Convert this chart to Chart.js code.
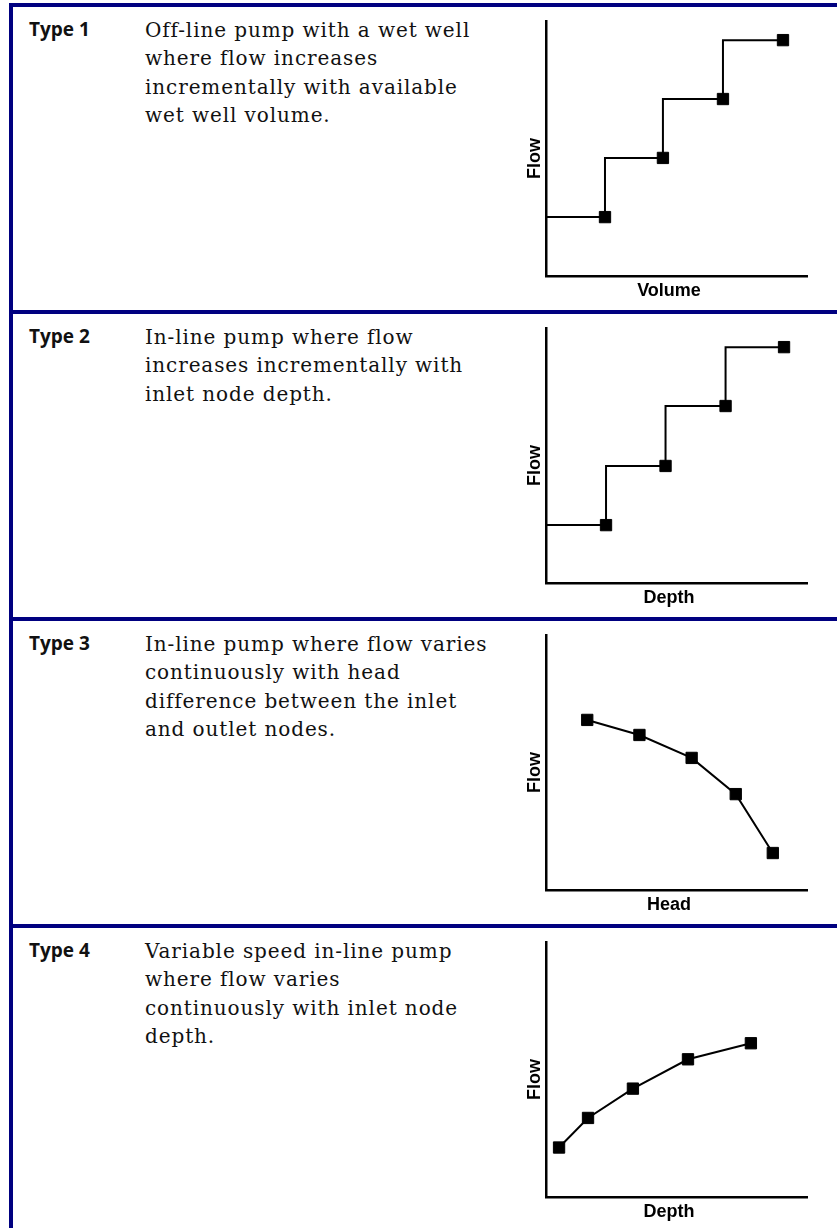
<!DOCTYPE html>
<html>
<head>
<meta charset="utf-8">
<script src="https://cdn.jsdelivr.net/npm/chart.js@4"></script>
<style>
  body { margin: 0; background: #fff; width: 837px; height: 1228px; position: relative; overflow: hidden; }
  .rule { position: absolute; left: 9px; right: 0; height: 4px; background: #000080; }
  .side { position: absolute; left: 9px; top: 3px; width: 4px; bottom: 0; background: #000080; }
  .type { position: absolute; left: 29px; font-family: "Open Sans", sans-serif; font-weight: 700; font-size: 19px; line-height: 28.5px; color: #111; }
  .desc { position: absolute; left: 145px; font-family: "DejaVu Serif", serif; font-size: 20px; letter-spacing: 0.9px; line-height: 28.5px; color: #111; white-space: nowrap; }
  .panel { position: absolute; left: 500px; width: 337px; height: 305px; }
</style>
</head>
<body>
<div class="side"></div>
<div id="rows"></div>

<script>
  // Row texts
  const typeLabels = ["Type 1", "Type 2", "Type 3", "Type 4"]
  const descriptions = [
    ["Off-line pump with a wet well", "where flow increases", "incrementally with available", "wet well volume."],
    ["In-line pump where flow", "increases incrementally with", "inlet node depth."],
    ["In-line pump where flow varies", "continuously with head", "difference between the inlet", "and outlet nodes."],
    ["Variable speed in-line pump", "where flow varies", "continuously with inlet node", "depth."],
  ]
  const xTitles = ["Volume", "Depth", "Head", "Depth"]
  const yTitle = "Flow"

  // Curve points (axes run 0..100, no units shown)
  const type1X = [0, 22.6, 44.8, 67.8, 90.8]
  const type1Y = [23.1, 23.1, 46.3, 69.4, 92.5]
  const type2X = [0, 23.0, 45.8, 68.8, 91.2]
  const type2Y = [22.7, 22.7, 45.9, 69.4, 92.5]
  const type3X = [15.8, 35.8, 55.8, 72.7, 86.9]
  const type3Y = [66.7, 60.8, 51.8, 37.6, 14.5]
  const type4X = [5.0, 16.1, 33.3, 54.4, 78.5]
  const type4Y = [19.4, 31.0, 42.5, 54.0, 60.3]

  const curves = [
    { x: type1X, y: type1Y, stepped: "after", firstHidden: true },
    { x: type2X, y: type2Y, stepped: "after", firstHidden: true },
    { x: type3X, y: type3Y, stepped: false, firstHidden: false },
    { x: type4X, y: type4Y, stepped: false, firstHidden: false },
  ]

  const rowTops = [3, 310, 617, 924]

  // Build the rows
  const rows = document.getElementById("rows")
  rowTops.forEach((top, i) => {
    const rule = document.createElement("div")
    rule.className = "rule"
    rule.style.top = top + "px"
    rows.appendChild(rule)

    const type = document.createElement("div")
    type.className = "type"
    type.style.top = top + 11.5 + "px"
    type.textContent = typeLabels[i]
    rows.appendChild(type)

    const desc = document.createElement("div")
    desc.className = "desc"
    desc.style.top = top + 12.5 + "px"
    desc.innerHTML = descriptions[i].join("<br>")
    rows.appendChild(desc)

    const panel = document.createElement("div")
    panel.className = "panel"
    panel.style.top = top + 4 + "px"
    const canvas = document.createElement("canvas")
    panel.appendChild(canvas)
    rows.appendChild(panel)

    createCurveChart(canvas, curves[i], xTitles[i])
  })

  // One small flow curve chart
  function createCurveChart(canvas, curve, xTitle) {
    const points = curve.x.map((x, k) => ({ x: x, y: curve.y[k] }))
    const radii = curve.x.map((x, k) => (curve.firstHidden && k === 0 ? 0 : 8))

    const axisFont = { family: "'Liberation Sans', Arial, sans-serif", size: 18, weight: "bold" }

    new Chart(canvas, {
      type: "line",
      data: {
        datasets: [
          {
            data: points,
            borderColor: "#000",
            borderWidth: 2,
            stepped: curve.stepped,
            tension: 0,
            pointStyle: "rect",
            pointRadius: radii,
            pointBackgroundColor: "#000",
            pointBorderColor: "#000",
            pointBorderWidth: 1,
            clip: false,
          },
        ],
      },
      options: {
        responsive: true,
        maintainAspectRatio: false,
        animation: false,
        events: [],
        layout: {
          padding: { left: 16.4, top: 14, right: 30, bottom: 6.4 },
        },
        scales: {
          x: {
            type: "linear",
            min: 0,
            max: 100,
            grid: { display: false, drawTicks: false },
            ticks: { display: false },
            border: { display: true, color: "#000", width: 2.5 },
            // trailing spaces nudge the title a little left of the axis centre
            title: { display: true, text: xTitle + "   ", color: "#000", font: axisFont, padding: { top: 4, bottom: 4 } },
          },
          y: {
            type: "linear",
            min: 0,
            max: 100,
            grid: { display: false, drawTicks: false },
            ticks: { display: false },
            border: { display: true, color: "#000", width: 2.5 },
            // trailing spaces nudge the title below the axis centre
            title: { display: true, text: yTitle + "    ", color: "#000", font: axisFont, padding: { top: 8, bottom: 0 } },
          },
        },
        plugins: {
          legend: { display: false },
          tooltip: { enabled: false },
        },
      },
    })
  }
</script>
</body>
</html>
